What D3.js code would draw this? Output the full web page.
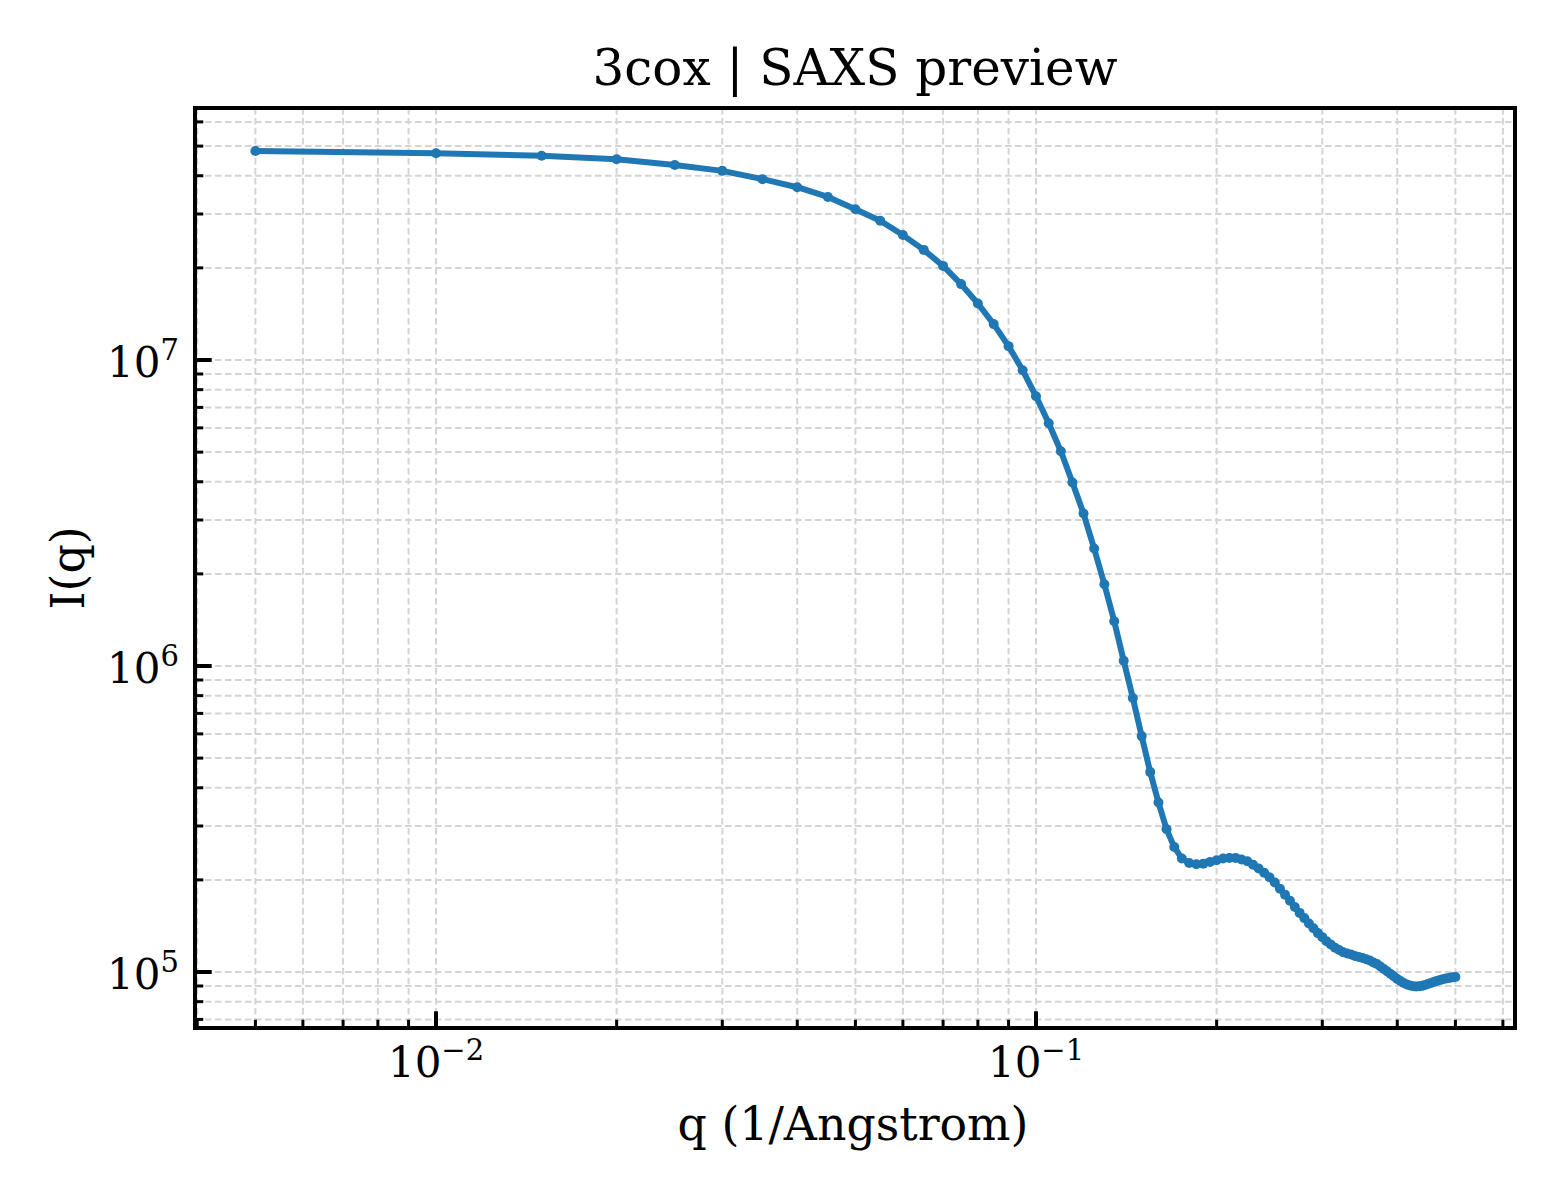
<!DOCTYPE html>
<html>
<head>
<meta charset="utf-8">
<script src="https://cdn.jsdelivr.net/npm/d3@7"></script>
<style>
  html, body { margin: 0; padding: 0; background: #ffffff; }
  svg { display: block; }
</style>
</head>
<body>
<svg id="chart" width="1560" height="1200"></svg>
<script>
// ---- data ----
const titleText = "3cox | SAXS preview";
const xLabelText = "q (1/Angstrom)";
const yLabelText = "I(q)";

const qValues = [
  0.005, 0.010, 0.015, 0.020, 0.025, 0.030, 0.035, 0.040, 0.045, 0.050,
  0.055, 0.060, 0.065, 0.070, 0.075, 0.080, 0.085, 0.090, 0.095, 0.100,
  0.105, 0.110, 0.115, 0.120, 0.125, 0.130, 0.135, 0.140, 0.145, 0.150,
  0.155, 0.160, 0.165, 0.170, 0.175, 0.180, 0.185, 0.190, 0.195, 0.200,
  0.205, 0.210, 0.215, 0.220, 0.225, 0.230, 0.235, 0.240, 0.245, 0.250,
  0.255, 0.260, 0.265, 0.270, 0.275, 0.280, 0.285, 0.290, 0.295, 0.300,
  0.305, 0.310, 0.315, 0.320, 0.325, 0.330, 0.335, 0.340, 0.345, 0.350,
  0.355, 0.360, 0.365, 0.370, 0.375, 0.380, 0.385, 0.390, 0.395, 0.400,
  0.405, 0.410, 0.415, 0.420, 0.425, 0.430, 0.435, 0.440, 0.445, 0.450,
  0.455, 0.460, 0.465, 0.470, 0.475, 0.480, 0.485, 0.490, 0.495, 0.500
];

const intensity = [
  4.82e7, 4.74e7, 4.65e7, 4.53e7, 4.34e7, 4.15e7, 3.90e7, 3.67e7, 3.41e7, 3.11e7,
  2.85e7, 2.56e7, 2.29e7, 2.03e7, 1.77e7, 1.53e7, 1.31e7, 1.11e7, 9.26e6, 7.61e6,
  6.21e6, 5.03e6, 3.98e6, 3.15e6, 2.42e6, 1.85e6, 1.40e6, 1.04e6, 7.86e5, 5.90e5,
  4.50e5, 3.58e5, 2.93e5, 2.56e5, 2.35e5, 2.27e5, 2.25e5, 2.26e5, 2.29e5, 2.32e5,
  2.35e5, 2.36e5, 2.36e5, 2.33e5, 2.30e5, 2.24e5, 2.18e5, 2.11e5, 2.04e5, 1.96e5,
  1.87e5, 1.79e5, 1.71e5, 1.63e5, 1.56e5, 1.50e5, 1.44e5, 1.39e5, 1.34e5, 1.30e5,
  1.26e5, 1.23e5, 1.20e5, 1.18e5, 1.16e5, 1.15e5, 1.14e5, 1.128e5, 1.12e5, 1.111e5,
  1.101e5, 1.09e5, 1.074e5, 1.062e5, 1.042e5, 1.023e5, 1.004e5, 9.85e4, 9.67e4, 9.49e4,
  9.35e4, 9.21e4, 9.10e4, 9.03e4, 8.99e4, 8.97e4, 8.98e4, 9.01e4, 9.07e4, 9.14e4,
  9.21e4, 9.28e4, 9.35e4, 9.40e4, 9.45e4, 9.50e4, 9.54e4, 9.58e4, 9.61e4, 9.63e4
];

const xMajorTicks = [0.01, 0.1];
const xTickExponents = ["\u22122", "\u22121"];
const yMajorTicks = [1e5, 1e6, 1e7];
const yTickExponents = ["5", "6", "7"];

// ---- layout ----
const W = 1560, H = 1200;
const plot = { left: 195, right: 1515, top: 108, bottom: 1028 };
const serif = "'DejaVu Serif', 'Liberation Serif', serif";
const lineColor = "#1f77b4";

const svg = d3.select("#chart");

const x = d3.scaleLog()
  .domain([Math.pow(10, -2.4017), Math.pow(10, -0.2017)])
  .range([plot.left, plot.right]);
const y = d3.scaleLog()
  .domain([Math.pow(10, 4.8170), Math.pow(10, 7.8235)])
  .range([plot.bottom, plot.top]);

// minor tick values
function minorTicks(scale) {
  const [d0, d1] = scale.domain();
  const out = [];
  for (let e = Math.floor(Math.log10(d0)); e <= Math.ceil(Math.log10(d1)); e++) {
    for (let m = 1; m <= 9; m++) {
      const v = m * Math.pow(10, e);
      if (v >= d0 && v <= d1) out.push({ v, major: m === 1 });
    }
  }
  return out;
}
const xAll = minorTicks(x);
const yAll = minorTicks(y);

// ---- grid ----
const grid = svg.append("g").attr("class", "grid");
grid.selectAll("line.gx").data(xAll).enter().append("line")
  .attr("x1", d => x(d.v)).attr("x2", d => x(d.v))
  .attr("y1", plot.top).attr("y2", plot.bottom)
  .attr("stroke", "#d4d4d4").attr("stroke-width", 2)
  .attr("stroke-dasharray", "6.5,3.5");
grid.selectAll("line.gy").data(yAll).enter().append("line")
  .attr("y1", d => y(d.v)).attr("y2", d => y(d.v))
  .attr("x1", plot.left).attr("x2", plot.right)
  .attr("stroke", "#d4d4d4").attr("stroke-width", 2)
  .attr("stroke-dasharray", "6.5,3.5");

// ---- data line & markers ----
const data = qValues.map((q, i) => ({ q, I: intensity[i] }));
const clipId = "plotclip";
svg.append("clipPath").attr("id", clipId).append("rect")
  .attr("x", plot.left).attr("y", plot.top)
  .attr("width", plot.right - plot.left).attr("height", plot.bottom - plot.top);

const series = svg.append("g").attr("clip-path", `url(#${clipId})`);
series.append("path")
  .datum(data)
  .attr("fill", "none")
  .attr("stroke", lineColor)
  .attr("stroke-width", 6)
  .attr("stroke-linejoin", "round")
  .attr("stroke-linecap", "butt")
  .attr("d", d3.line().x(d => x(d.q)).y(d => y(d.I)));
series.selectAll("circle").data(data).enter().append("circle")
  .attr("cx", d => x(d.q)).attr("cy", d => y(d.I))
  .attr("r", 5).attr("fill", lineColor);

// ---- ticks (inward, left & bottom) ----
const ticks = svg.append("g");
ticks.selectAll("line.xt").data(xAll).enter().append("line")
  .attr("x1", d => x(d.v)).attr("x2", d => x(d.v))
  .attr("y1", plot.bottom).attr("y2", d => plot.bottom - (d.major ? 16.7 : 8.3))
  .attr("stroke", "#000").attr("stroke-width", d => d.major ? 4 : 3);
ticks.selectAll("line.yt").data(yAll).enter().append("line")
  .attr("y1", d => y(d.v)).attr("y2", d => y(d.v))
  .attr("x1", plot.left).attr("x2", d => plot.left + (d.major ? 16.7 : 8.3))
  .attr("stroke", "#000").attr("stroke-width", d => d.major ? 4 : 3);

// ---- spines ----
svg.append("rect")
  .attr("x", plot.left).attr("y", plot.top)
  .attr("width", plot.right - plot.left).attr("height", plot.bottom - plot.top)
  .attr("fill", "none").attr("stroke", "#000").attr("stroke-width", 4);

// ---- tick labels ----
const tickFont = 42, supFont = 29;
xMajorTicks.forEach((v, i) => {
  const t = svg.append("text")
    .attr("x", x(v)).attr("y", 1077)
    .attr("text-anchor", "middle")
    .attr("font-family", serif).attr("font-size", tickFont).attr("fill", "#000");
  t.append("tspan").text("10");
  t.append("tspan").attr("dy", -17).attr("font-size", supFont).text(xTickExponents[i]);
});
yMajorTicks.forEach((v, i) => {
  const t = svg.append("text")
    .attr("x", 179).attr("y", y(v) + 17)
    .attr("text-anchor", "end")
    .attr("font-family", serif).attr("font-size", tickFont).attr("fill", "#000");
  t.append("tspan").text("10");
  t.append("tspan").attr("dy", -17).attr("font-size", supFont).text(yTickExponents[i]);
});

// ---- labels & title ----
svg.append("text")
  .attr("x", (plot.left + plot.right) / 2).attr("y", 85)
  .attr("text-anchor", "middle")
  .attr("font-family", serif).attr("font-size", 50).attr("fill", "#000")
  .text(titleText);
svg.append("text")
  .attr("x", (plot.left + plot.right) / 2 - 2).attr("y", 1140)
  .attr("text-anchor", "middle")
  .attr("font-family", serif).attr("font-size", 45.8).attr("fill", "#000")
  .text(xLabelText);
svg.append("text")
  .attr("transform", `translate(84,${(plot.top + plot.bottom) / 2}) rotate(-90)`)
  .attr("text-anchor", "middle")
  .attr("font-family", serif).attr("font-size", 45.8).attr("fill", "#000")
  .text(yLabelText);
</script>
</body>
</html>
